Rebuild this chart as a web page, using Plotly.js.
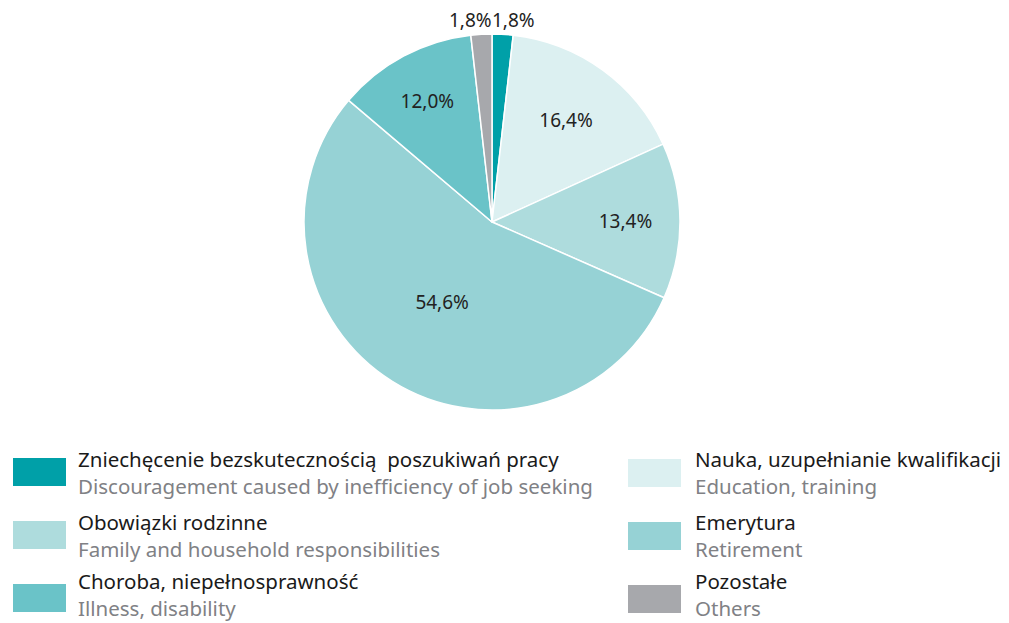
<!DOCTYPE html>
<html><head><meta charset="utf-8">
<script src="https://cdn.plot.ly/plotly-3.0.1.min.js"></script>
<style>html,body{margin:0;padding:0;background:#fff}#chart{width:1009px;height:623px}</style>
</head><body><div id="chart"></div>
<script>
const labelsPl = ["Zniechęcenie bezskutecznością  poszukiwań pracy","Nauka, uzupełnianie kwalifikacji","Obowiązki rodzinne","Emerytura","Choroba, niepełnosprawność","Pozostałe"];
const labelsEn = ["Discouragement caused by inefficiency of job seeking","Education, training","Family and household responsibilities","Retirement","Illness, disability","Others"];
const values = [1.8, 16.4, 13.4, 54.6, 12.0, 1.8];
const colors = ["#00a0a8","#dcf0f1","#aedcdd","#96d2d5","#6ac3c8","#a7a8ac"];
// legend order (as in the reference): left column then right column
const legendOrderLeft = [0, 2, 4];
const legendOrderRight = [1, 3, 5];

const W = 1009, H = 623;
const cx = 492, cy = 222, r = 188;
const fmt = v => v.toFixed(1).replace('.', ',') + '%';
const FONT = 'Noto Sans, sans-serif';

const trace = {
  type: 'pie',
  values: values,
  labels: labelsPl,
  sort: false,
  direction: 'clockwise',
  rotation: 0,
  marker: {colors: colors, line: {color: '#ffffff', width: 1.5}},
  text: values.map(fmt),
  textinfo: 'text',
  textposition: values.map(v => v < 5 ? 'none' : 'inside'),
  insidetextorientation: 'horizontal',
  textfont: {family: FONT, size: 19, color: '#222222'},
  hoverinfo: 'label+text',
  showlegend: false,
  domain: {x: [(cx - r) / W, (cx + r) / W], y: [1 - (cy + r) / H, 1 - (cy - r) / H]}
};

const shapes = [];
const annotations = [];
const px = x => x / W, py = y => 1 - y / H;

// outside labels for the small slices at the top
annotations.push({xref:'paper', yref:'paper', x: px(492), y: py(20), text: fmt(values[5]), showarrow:false, xanchor:'right', yanchor:'middle', xshift: 2, font:{family:FONT, size:19, color:'#222222'}});
annotations.push({xref:'paper', yref:'paper', x: px(492), y: py(20), text: fmt(values[0]), showarrow:false, xanchor:'left', yanchor:'middle', xshift: -2, font:{family:FONT, size:19, color:'#222222'}});

function legendItem(idx, x0, yTop, tx, textOffset) {
  shapes.push({type:'rect', xref:'paper', yref:'paper', x0: px(x0), x1: px(x0 + 53), y0: py(yTop + 28), y1: py(yTop), fillcolor: colors[idx], line:{width:0}});
  annotations.push({xref:'paper', yref:'paper', x: px(tx), y: py(yTop + textOffset), borderpad: 0,
    text: labelsPl[idx] + '<br><span style="color:#808185">' + labelsEn[idx] + '</span>',
    align: 'left', showarrow:false, xanchor:'left', yanchor:'middle',
    font:{family:FONT, size:20.5, color:'#1a1a1a'}});
}
const rowTops = [458, 521, 584];
const textOffsets = [14, 14, 10];
legendOrderLeft.forEach((idx, i) => legendItem(idx, 13, rowTops[i], 77, textOffsets[i]));
legendOrderRight.forEach((idx, i) => legendItem(idx, 628, rowTops[i] + 1, 694, textOffsets[i] - 1));

const layout = {
  width: W, height: H,
  margin: {l:0, r:0, t:0, b:0},
  paper_bgcolor: '#ffffff',
  plot_bgcolor: '#ffffff',
  showlegend: false,
  shapes: shapes,
  annotations: annotations,
  font: {family: FONT}
};
Plotly.newPlot('chart', [trace], layout, {displayModeBar: false, staticPlot: true});
</script></body></html>
